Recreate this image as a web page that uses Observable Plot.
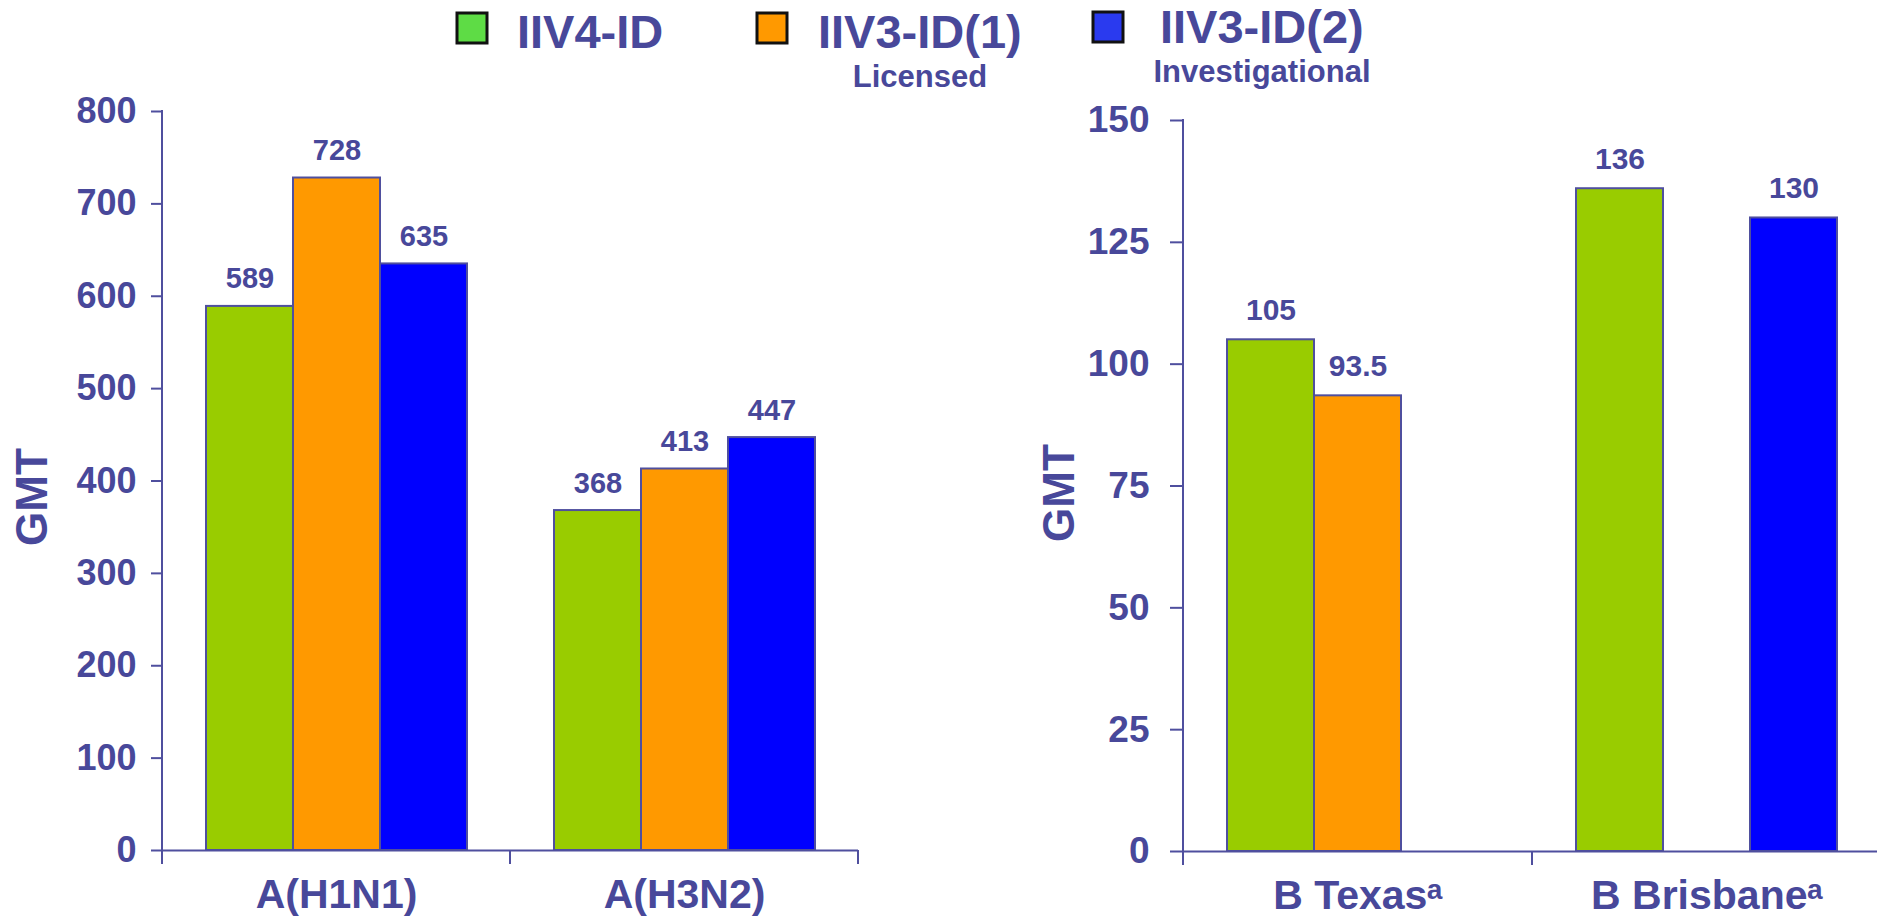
<!DOCTYPE html>
<html>
<head>
<meta charset="utf-8">
<script src="https://cdn.jsdelivr.net/npm/d3@7"></script>
<script src="https://cdn.jsdelivr.net/npm/@observablehq/plot@0.6"></script>
<style>
  html, body { margin: 0; padding: 0; background: #ffffff; overflow: hidden; }
  #page { position: relative; width: 1877px; height: 921px; overflow: hidden; }
  #page > svg, #page > div { position: absolute; top: 0; }
</style>
</head>
<body>
<div id="page"></div>
<script>
// ---------- data ----------
const seriesNames = ["IIV4-ID", "IIV3-ID(1)", "IIV3-ID(2)"];
const seriesNotes = ["", "Licensed", "Investigational"];
const seriesColors = ["#99cc00", "#ff9900", "#0000ff"];
const legendColors = ["#5edc45", "#ff9900", "#2a3aef"];

const strainsA = ["A(H1N1)", "A(H3N2)"];
const gmtA_IIV4 = [589, 368];
const gmtA_IIV3_1 = [728, 413];
const gmtA_IIV3_2 = [635, 447];
const ticksA = [0, 100, 200, 300, 400, 500, 600, 700, 800];

const strainsB = ["B Texas\u1D43", "B Brisbane\u1D43"];
const gmtB_IIV4 = [105, 136];
const gmtB_IIV3_1 = [93.5, null];
const gmtB_IIV3_2 = [null, 130];
const ticksB = [0, 25, 50, 75, 100, 125, 150];

const yLabel = "GMT";

// ---------- styles ----------
const TEXT = "#48489a";
const AXIS = "#4f4f9e";
const FONT = "'Liberation Sans', Arial, Helvetica, sans-serif";

const page = document.getElementById("page");

function makeChart(cfg) {
  const rows = [];
  cfg.cats.forEach((c, i) => seriesNames.forEach((s, j) => {
    const v = cfg.values[j][i];
    if (v != null) rows.push({cat: c, series: s, value: v});
  }));
  const plot = Plot.plot({
    width: cfg.width, height: cfg.height,
    marginLeft: cfg.marginLeft, marginRight: cfg.marginRight,
    marginTop: cfg.marginTop, marginBottom: cfg.marginBottom,
    style: {fontFamily: FONT, fontWeight: "bold", color: TEXT, background: "transparent", overflow: "visible"},
    fx: {domain: cfg.cats, padding: 0, label: null},
    x: {domain: seriesNames, paddingInner: 0, paddingOuter: 0.5, axis: null},
    y: {domain: [0, cfg.ticks[cfg.ticks.length - 1]], label: null},
    color: {domain: seriesNames, range: seriesColors},
    marks: [
      Plot.barY(rows, {fx: "cat", x: "series", y: "value", fill: "series", stroke: AXIS, strokeWidth: 2}),
      Plot.ruleY([0], {stroke: AXIS, strokeWidth: 2}),
      Plot.text(rows, {fx: "cat", x: "series", y: "value", text: d => String(d.value),
        lineAnchor: "bottom", dy: -cfg.valueGap, fontSize: cfg.valueFont, fontWeight: "bold", fill: TEXT}),
      Plot.axisY({ticks: cfg.ticks, tickSize: cfg.tickSize, tickPadding: cfg.tickPadding,
        fontSize: cfg.tickFont, stroke: AXIS, strokeWidth: 2, fill: TEXT, label: null}),
      Plot.axisFx({anchor: "bottom", tickSize: 0, tickPadding: 28, fontSize: 41, fill: TEXT, label: null})
    ]
  });
  // axis line and category separators, placed with the plot's own scales
  const svg = d3.select(plot);
  const fx = plot.scale("fx");
  const y = plot.scale("y");
  const y0 = y.apply(0);
  const yTop = y.apply(cfg.ticks[cfg.ticks.length - 1]);
  const bounds = fx.domain.map(d => fx.apply(d));
  bounds.push(fx.apply(fx.domain[fx.domain.length - 1]) + fx.bandwidth);
  const g = svg.append("g").attr("stroke", AXIS).attr("stroke-width", 2);
  g.append("line").attr("x1", bounds[0]).attr("x2", bounds[0]).attr("y1", yTop - 1).attr("y2", y0 + 14);
  bounds.slice(1).forEach(b => g.append("line").attr("x1", b).attr("x2", b).attr("y1", y0).attr("y2", y0 + 14));
  plot.style.left = cfg.left + "px";
  page.appendChild(plot);
}

makeChart({
  cats: strainsA, values: [gmtA_IIV4, gmtA_IIV3_1, gmtA_IIV3_2], ticks: ticksA,
  left: 0, width: 880, height: 921, marginLeft: 162, marginRight: 22, marginTop: 111, marginBottom: 71,
  tickSize: 11, tickPadding: 15, tickFont: 36, valueFont: 29, valueGap: 18
});
makeChart({
  cats: strainsB, values: [gmtB_IIV4, gmtB_IIV3_1, gmtB_IIV3_2], ticks: ticksB,
  left: 900, width: 981, height: 921, marginLeft: 283, marginRight: 0, marginTop: 120, marginBottom: 70,
  tickSize: 13, tickPadding: 21, tickFont: 37, valueFont: 30, valueGap: 20
});

// ---------- legend and axis titles ----------
const over = d3.select(page).append("svg")
  .attr("width", 1877).attr("height", 921)
  .style("left", "0px").style("pointer-events", "none")
  .attr("font-family", FONT).attr("font-weight", "bold").attr("fill", TEXT);

const legendPos = [
  {rx: 457, ry: 13, tx: 517, ty: 48, nx: 0, ny: 0},
  {rx: 757, ry: 13, tx: 818, ty: 48, nx: 920, ny: 87},
  {rx: 1093, ry: 12, tx: 1160, ty: 43, nx: 1262, ny: 82}
];
seriesNames.forEach((s, i) => {
  const p = legendPos[i];
  over.append("rect").attr("x", p.rx).attr("y", p.ry).attr("width", 30).attr("height", 30)
    .attr("fill", legendColors[i]).attr("stroke", "#111").attr("stroke-width", 3);
  over.append("text").attr("x", p.tx).attr("y", p.ty).attr("font-size", 47).text(s);
  if (seriesNotes[i]) {
    over.append("text").attr("x", p.nx).attr("y", p.ny).attr("font-size", 31)
      .attr("text-anchor", "middle").text(seriesNotes[i]);
  }
});
[[47, 497], [1074, 493]].forEach(([x, yy]) => {
  over.append("text").attr("transform", `translate(${x},${yy}) rotate(-90)`)
    .attr("text-anchor", "middle").attr("font-size", 44).text(yLabel);
});
</script>
</body>
</html>
